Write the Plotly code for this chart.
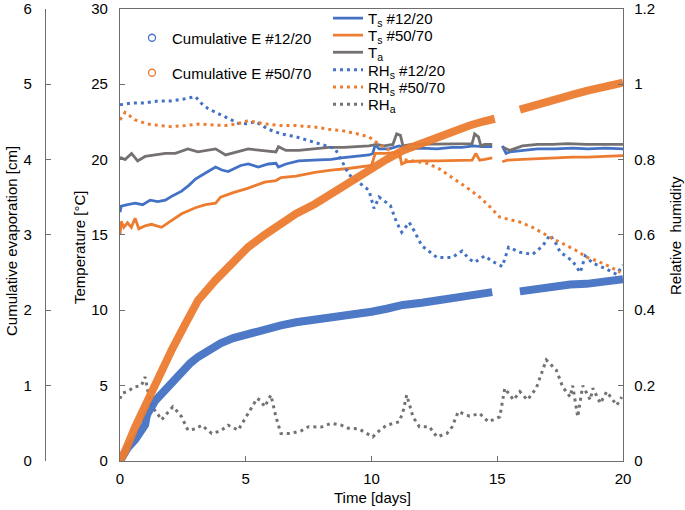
import plotly.graph_objects as go

# ---------------- data ----------------
x_ticks = [0, 5, 10, 15, 20]
t_ticks = [0, 5, 10, 15, 20, 25, 30]
rh_ticks = [0, 0.2, 0.4, 0.6, 0.8, 1.0, 1.2]
rh_ticklabels = ["0", "0.2", "0.4", "0.6", "0.8", "1", "1.2"]
e_ticks = [0, 1, 2, 3, 4, 5, 6]

# Cumulative evaporation [cm]
t_e1220 = [0, 0.1, 0.3, 0.6, 0.8, 1.0, 1.05, 1.1, 1.4, 1.8, 2.1, 2.45, 2.8, 3.1, 3.5, 4.0, 4.5, 5.1, 5.7,
           6.4, 7.0, 7.75, 8.4, 9.07, 10.0, 10.6, 11.25, 12.0, 12.6, 13.3, 13.9, 14.4, 14.8, None,
           15.9, 16.5, 17.2, 17.9, 18.55, 19.3, 20.0]
e_1220 = [0, 0.06, 0.17, 0.28, 0.38, 0.48, 0.58, 0.63, 0.8, 0.94, 1.06, 1.2, 1.3, 1.38, 1.47, 1.56, 1.63,
          1.69, 1.75, 1.80, 1.84, 1.87, 1.90, 1.93, 1.98, 2.02, 2.07, 2.10, 2.13, 2.17, 2.2, 2.22, 2.24, None,
          2.25, 2.28, 2.32, 2.34, 2.35, 2.38, 2.41]
t_e5070 = [0, 0.2, 0.6, 1.1, 1.6, 2.05, 2.6, 3.1, 3.8, 4.5, 5.1, 5.75, 6.4, 7.0, 7.75, 8.4, 9.07, 10.0,
           10.6, 11.25, 12.0, 12.6, 13.3, 13.9, 14.4, 14.9, None, 15.9, 16.5, 17.2, 17.9, 18.55, 19.3, 20.0]
e_5070 = [0, 0.13, 0.45, 0.81, 1.15, 1.47, 1.82, 2.13, 2.40, 2.64, 2.84, 3.0, 3.15, 3.28, 3.41, 3.55, 3.68,
          3.90, 4.0, 4.12, 4.22, 4.30, 4.38, 4.45, 4.50, 4.54, None, 4.66, 4.71, 4.78, 4.85, 4.91, 4.96, 5.02]

# Surface temperatures and air temperature [degC]
t_ts1220 = [0, 0.05, 0.3, 0.6, 0.9, 1.2, 1.5, 1.8, 2.1, 2.45, 2.75, 3.0, 3.4, 3.8, 4.05, 4.3, 4.8, 5.1,
            5.5, 5.9, 6.2, 6.3, 6.6, 7.1, 7.7, 8.4, 8.8, 9.1, 9.5, 9.9, 10.05, 10.15, 10.3, 10.7, 11.1,
            11.5, 12.0, 12.6, 13.2, 13.6, 14.05, 14.4, 14.8, None, 15.2, 15.35, 15.5, 16.0, 16.6, 17.3,
            18.0, 18.6, 19.3, 20.0]
ts_1220 = [16.5, 16.9, 17.0, 17.1, 17.0, 17.3, 17.2, 17.3, 17.6, 17.9, 18.3, 18.7, 19.1, 19.5, 19.3, 19.2,
           19.6, 19.7, 19.5, 19.7, 19.75, 19.5, 19.7, 19.9, 19.95, 20.0, 20.1, 20.15, 20.2, 20.3, 20.4,
           21.0, 20.7, 20.7, 20.9, 20.7, 20.75, 20.7, 20.8, 20.8, 20.9, 20.85, 20.85, None, 20.9, 20.4,
           20.5, 20.6, 20.7, 20.7, 20.75, 20.7, 20.75, 20.7]
t_ts5070 = [0, 0.05, 0.15, 0.3, 0.45, 0.6, 0.75, 1.0, 1.25, 1.65, 2.0, 2.45, 3.0, 3.4, 3.8, 4.0, 4.5, 5.1,
            5.75, 6.2, 6.4, 7.0, 7.75, 8.4, 9.07, 9.6, 10.0, 10.15, 10.6, 11.1, 11.2, 11.4, 12.0, 12.6,
            13.3, 14.0, 14.15, 14.3, 14.5, 14.8, None, 15.2, 15.4, 16.0, 16.6, 17.3, 18.0, 18.6, 19.3, 20.0]
ts_5070 = [15.0, 15.9, 15.5, 15.8, 15.5, 16.1, 15.4, 15.6, 15.7, 15.5, 15.9, 16.4, 16.8, 17.0, 17.1, 17.5,
           17.8, 18.1, 18.5, 18.6, 18.8, 18.9, 19.15, 19.3, 19.4, 19.5, 19.6, 20.4, 20.4, 20.5, 19.7, 19.85,
           19.9, 19.9, 19.95, 19.95, 20.4, 19.95, 20.0, 20.1, None, 19.85, 19.95, 20.0, 20.05, 20.1, 20.15,
           20.15, 20.2, 20.25]
t_ta = [0, 0.2, 0.46, 0.7, 1.0, 1.4, 1.8, 2.2, 2.7, 3.1, 3.5, 3.8, 4.2, 4.6, 5.1, 5.6, 6.2, 6.3, 6.6, 7.1,
        7.7, 8.3, 8.9, 9.4, 9.9, 10.2, 10.5, 10.85, 11.0, 11.15, 11.25, 11.6, 12.1, 12.6, 13.2, 13.7,
        14.0, 14.1, 14.25, 14.35, 14.5, 14.8, None, 15.25, 15.5, 16.0, 16.6, 17.2, 17.8, 18.55, 19.2, 20.0]
ta = [20.15, 20.0, 20.4, 19.9, 20.2, 20.3, 20.4, 20.4, 20.7, 20.5, 20.6, 20.7, 20.3, 20.5, 20.7, 20.6,
      20.5, 20.85, 20.6, 20.6, 20.7, 20.8, 20.8, 20.85, 20.9, 21.0, 20.9, 21.0, 21.7, 21.6, 20.9, 21.0,
      21.0, 21.0, 21.0, 21.05, 21.05, 21.7, 21.5, 20.9, 21.0, 21.0, None, 20.8, 20.6, 20.9, 21.0, 21.0,
      21.05, 21.0, 21.0, 21.0]

# Relative humidity [-]
t_rh1220 = [0, 0.5, 1.0, 1.5, 2.0, 2.5, 3.0, 3.25, 3.5, 3.8, 4.3, 4.7, 5.0, 5.4, 5.9, 6.4, 7.0, 7.75,
            8.55, 8.95, 9.1, 9.9, 10.1, 10.3, 10.75, 11.0, 11.2, 11.5, 11.7, 12.0, 12.6, 13.2, 13.6,
            13.9, 14.1, 14.5, 14.8, 15.2, 15.45, 15.9, 16.4, 16.8, 17.1, 17.35, 17.5, 17.8, 18.0, 18.3,
            18.5, 18.8, 19.35, 19.75, 20.0]
rh_1220 = [0.945, 0.95, 0.95, 0.955, 0.955, 0.96, 0.967, 0.948, 0.935, 0.925, 0.909, 0.896, 0.895, 0.90,
           0.88, 0.868, 0.86, 0.846, 0.829, 0.78, 0.76, 0.718, 0.67, 0.70, 0.678, 0.633, 0.607, 0.633,
           0.61, 0.571, 0.54, 0.54, 0.557, 0.535, 0.527, 0.544, 0.53, 0.516, 0.567, 0.554, 0.548, 0.57,
           0.60, 0.575, 0.554, 0.54, 0.53, 0.50, 0.544, 0.525, 0.509, 0.495, 0.52]
t_rh5070 = [0, 0.2, 0.6, 1.1, 1.6, 2.05, 2.6, 3.1, 3.6, 4.2, 4.7, 5.1, 5.7, 6.4, 7.0, 7.75, 8.3, 8.8, 9.3,
            9.9, 10.3, 10.7, 11.25, 11.7, 12.2, 12.7, 13.2, 13.8, 14.3, 14.7, 15.1, 15.5, 15.9, 16.4, 16.8,
            17.2, 17.6, 18.1, 18.55, 19.0, 19.5, 19.9]
rh_5070 = [0.905, 0.925, 0.905, 0.894, 0.89, 0.887, 0.89, 0.894, 0.892, 0.89, 0.895, 0.903, 0.895, 0.89,
           0.89, 0.886, 0.88, 0.877, 0.87, 0.86, 0.84, 0.825, 0.80, 0.795, 0.79, 0.775, 0.753, 0.725, 0.70,
           0.675, 0.647, 0.64, 0.634, 0.62, 0.604, 0.59, 0.577, 0.56, 0.541, 0.53, 0.515, 0.50]
t_rha = [0, 0.07, 0.3, 0.6, 0.85, 1.0, 1.1, 1.25, 1.45, 1.65, 1.85, 2.1, 2.3, 2.45, 2.7, 3.0, 3.25, 3.65,
         4.0, 4.3, 4.7, 5.1, 5.45, 5.6, 5.75, 6.0, 6.2, 6.4, 6.8, 7.2, 7.5, 8.0, 8.4, 8.8, 9.07, 9.5, 10.05,
         10.3, 10.6, 11.1, 11.25, 11.4, 11.65, 11.9, 12.3, 12.6, 13.0, 13.2, 13.45, 13.9, 14.3, 14.65, 15.1,
         15.3, 15.65, 15.9, 16.2, 16.55, 16.95, 17.35, 17.6, 17.9, 18.0, 18.2, 18.4, 18.7, 18.8, 19.1,
         19.35, 19.75, 19.95]
rh_a = [0.165, 0.179, 0.185, 0.197, 0.2, 0.223, 0.188, 0.144, 0.13, 0.109, 0.125, 0.144, 0.13, 0.117,
        0.082, 0.085, 0.095, 0.073, 0.08, 0.095, 0.082, 0.126, 0.166, 0.16, 0.144, 0.175, 0.117, 0.073,
        0.073, 0.08, 0.091, 0.09, 0.1, 0.095, 0.087, 0.085, 0.064, 0.08, 0.095, 0.104, 0.13, 0.175, 0.117,
        0.091, 0.091, 0.064, 0.073, 0.09, 0.131, 0.119, 0.126, 0.104, 0.117, 0.193, 0.162, 0.184, 0.162,
        0.193, 0.268, 0.241, 0.197, 0.17, 0.2, 0.117, 0.2, 0.162, 0.193, 0.153, 0.184, 0.148, 0.17]

# ---------------- styling ----------------
W, H = 685, 510
BLUE = "#4472C4"
ORANGE = "#ED7D31"
GRAY = "#767171"
AX = "#6e6e6e"
FONT = "Liberation Sans, Arial, sans-serif"
DOT = "3px,4px"


def px(sx):
    return sx / W


def py(sy):
    return 1 - sy / H


X0, X1 = px(120), px(623)
Y0, Y1 = py(461), py(8.7)


def leg(sx, sy):
    return dict(x=px(sx), y=py(sy), xanchor="left", yanchor="middle", bgcolor="rgba(0,0,0,0)",
                borderwidth=0, font=dict(family=FONT, size=15, color="black"), itemwidth=30)


fig = go.Figure()

# temperatures (main y axis)
fig.add_trace(go.Scatter(x=t_ts1220, y=ts_1220, mode="lines", name="T<sub>s</sub> #12/20",
                         line=dict(color=BLUE, width=2.8), yaxis="y", legend="legend3", connectgaps=False))
fig.add_trace(go.Scatter(x=t_ts5070, y=ts_5070, mode="lines", name="T<sub>s</sub> #50/70",
                         line=dict(color=ORANGE, width=2.8), yaxis="y", legend="legend4", connectgaps=False))
fig.add_trace(go.Scatter(x=t_ta, y=ta, mode="lines", name="T<sub>a</sub>",
                         line=dict(color=GRAY, width=2.8), yaxis="y", legend="legend5", connectgaps=False))
# relative humidity (right axis)
fig.add_trace(go.Scatter(x=t_rh1220, y=rh_1220, mode="lines", name="RH<sub>s</sub> #12/20",
                         line=dict(color=BLUE, width=3, dash=DOT), yaxis="y2", legend="legend6"))
fig.add_trace(go.Scatter(x=t_rh5070, y=rh_5070, mode="lines", name="RH<sub>s</sub> #50/70",
                         line=dict(color=ORANGE, width=3, dash=DOT), yaxis="y2", legend="legend7"))
fig.add_trace(go.Scatter(x=t_rha, y=rh_a, mode="lines", name="RH<sub>a</sub>",
                         line=dict(color=GRAY, width=3, dash=DOT), yaxis="y2", legend="legend8"))
# cumulative evaporation (outer left axis)
fig.add_trace(go.Scatter(x=t_e1220, y=e_1220, mode="lines", name="Cumulative E #12/20", showlegend=False,
                         line=dict(color=BLUE, width=8), opacity=0.95, yaxis="y3", connectgaps=False))
fig.add_trace(go.Scatter(x=t_e5070, y=e_5070, mode="lines", name="Cumulative E #50/70", showlegend=False,
                         line=dict(color=ORANGE, width=8), opacity=0.95, yaxis="y3", connectgaps=False))
# legend entries for evaporation (open circle symbols)
fig.add_trace(go.Scatter(x=[None], y=[None], mode="markers", name="Cumulative E #12/20",
                         marker=dict(symbol="circle-open", size=7, color=BLUE, line=dict(width=1.3)),
                         yaxis="y3", legend="legend"))
fig.add_trace(go.Scatter(x=[None], y=[None], mode="markers", name="Cumulative E #50/70",
                         marker=dict(symbol="circle-open", size=7, color=ORANGE, line=dict(width=1.3)),
                         yaxis="y3", legend="legend2"))

axis_common = dict(showline=True, linecolor=AX, linewidth=1.3, ticks="inside", ticklen=5, tickcolor=AX,
                   tickwidth=1.3, showgrid=False, zeroline=False, automargin=False,
                   ticklabeloverflow="allow",
                   tickfont=dict(family=FONT, size=15, color="black"))

title_font = dict(family=FONT, size=15, color="black")

fig.update_layout(
    width=W, height=H, margin=dict(l=0, r=0, t=0, b=0),
    paper_bgcolor="white", plot_bgcolor="white",
    font=dict(family=FONT, size=15, color="black"),
    xaxis=dict(domain=[X0, X1], range=[0, 20], tickvals=x_ticks, mirror=True, ticklabelstandoff=4,
               **axis_common),
    yaxis=dict(domain=[Y0, Y1], range=[0, 30], tickvals=t_ticks, ticklabelstandoff=8, **axis_common),
    yaxis2=dict(overlaying="y", side="right", anchor="x", range=[0, 1.2], tickvals=rh_ticks,
                ticktext=rh_ticklabels, ticklabelstandoff=7, **axis_common),
    yaxis3=dict(overlaying="y", side="left", anchor="free", position=px(45), range=[0, 6],
                tickvals=e_ticks, ticklabelstandoff=10, **axis_common),
    legend=leg(132, 38),
    legend2=leg(132, 73),
    legend3=leg(328, 18.3),
    legend4=leg(328, 35.3),
    legend5=leg(328, 52.5),
    legend6=leg(328, 70),
    legend7=leg(328, 87.3),
    legend8=leg(328, 104.5),
    annotations=[
        dict(text="Cumulative evaporation [cm]", xref="paper", yref="paper", x=px(11), y=py(241),
             xanchor="center", yanchor="middle", textangle=-90, showarrow=False, font=title_font),
        dict(text="Temperature [°C]", xref="paper", yref="paper", x=px(79), y=py(247),
             xanchor="center", yanchor="middle", textangle=-90, showarrow=False, font=title_font),
        dict(text="Relative\u00a0 humidity", xref="paper", yref="paper", x=px(675), y=py(236),
             xanchor="center", yanchor="middle", textangle=-90, showarrow=False, font=title_font),
        dict(text="Time [days]", xref="paper", yref="paper", x=px(372), y=py(497),
             xanchor="center", yanchor="middle", showarrow=False, font=title_font),
    ],
)

fig.write_html("out.html", config={"displayModeBar": False},
               post_script="document.body.style.margin='0px';")
